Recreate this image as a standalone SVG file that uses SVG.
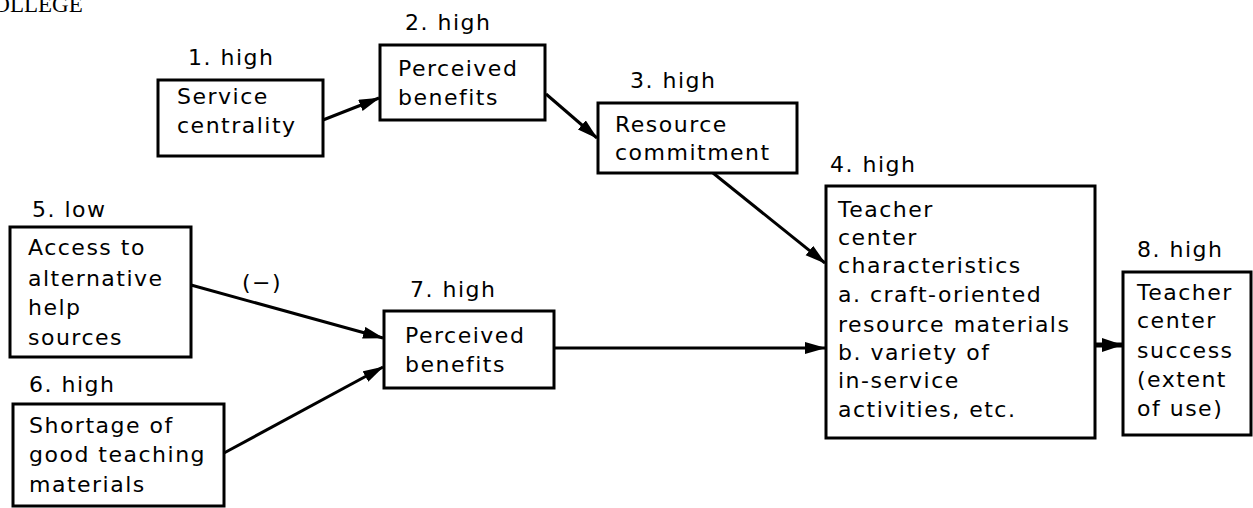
<svg xmlns="http://www.w3.org/2000/svg" width="1253" height="508" viewBox="0 0 1253 508">
<style>
.box{fill:#fff;stroke:#000;stroke-width:3}
.t{font-family:"DejaVu Sans",sans-serif;font-size:22px;letter-spacing:1.5px;fill:#000}
.lbl{font-family:"DejaVu Sans",sans-serif;font-size:22px;letter-spacing:1.5px;fill:#000}
.c{stroke:#000;stroke-width:3;fill:none;marker-end:url(#ah)}
</style>
<defs>
<marker id="ah" markerUnits="userSpaceOnUse" markerWidth="22" markerHeight="14" refX="20" refY="6" orient="auto">
<path d="M0,0 L21,6 L0,12 z" fill="#000"/>
</marker>
<marker id="ah2" markerUnits="userSpaceOnUse" markerWidth="22" markerHeight="16" refX="20" refY="7" orient="auto">
<path d="M0,0 L21,7 L0,14 z" fill="#000"/>
</marker>
</defs>
<rect width="1253" height="508" fill="#fff"/>
<text x="-22" y="12" font-family="Liberation Serif,serif" font-size="23" fill="#000">COLLEGE</text>

<g id="connectors">
<line class="c" x1="323" y1="120" x2="379" y2="98"/>
<line class="c" x1="546" y1="94" x2="597" y2="138"/>
<line class="c" x1="713" y1="173" x2="825" y2="263"/>
<line class="c" x1="191" y1="285" x2="383" y2="338"/>
<line class="c" x1="224" y1="453" x2="383" y2="367"/>
<line class="c" x1="554" y1="348" x2="825" y2="348"/>
<line x1="1095" y1="345" x2="1122" y2="345" stroke="#000" stroke-width="5" marker-end="url(#ah2)"/>
<text x="242" y="290" class="lbl">(−)</text>
</g>

<g id="n1">
<text x="188" y="65" class="lbl">1. high</text>
<rect class="box" x="158" y="80" width="165" height="76"/>
<text x="177" y="104" class="t">Service</text>
<text x="177" y="133" class="t">centrality</text>
</g>

<g id="n2">
<text x="405" y="30" class="lbl">2. high</text>
<rect class="box" x="380" y="45" width="165" height="75"/>
<text x="398" y="76" class="t">Perceived</text>
<text x="398" y="105" class="t">benefits</text>
</g>

<g id="n3">
<text x="630" y="88" class="lbl">3. high</text>
<rect class="box" x="598" y="103" width="199" height="70"/>
<text x="615" y="132" class="t">Resource</text>
<text x="615" y="160" class="t">commitment</text>
</g>

<g id="n4">
<text x="830" y="172" class="lbl">4. high</text>
<rect class="box" x="826" y="186" width="269" height="252"/>
<text x="838" y="217" class="t">Teacher</text>
<text x="838" y="245" class="t">center</text>
<text x="838" y="273" class="t">characteristics</text>
<text x="838" y="302" class="t">a. craft-oriented</text>
<text x="838" y="332" class="t">resource materials</text>
<text x="838" y="360" class="t">b. variety of</text>
<text x="838" y="388" class="t">in-service</text>
<text x="838" y="417" class="t">activities, etc.</text>
</g>

<g id="n5">
<text x="32" y="217" class="lbl">5. low</text>
<rect class="box" x="10" y="227" width="181" height="130"/>
<text x="28" y="255" class="t">Access to</text>
<text x="28" y="286" class="t">alternative</text>
<text x="28" y="315" class="t">help</text>
<text x="28" y="345" class="t">sources</text>
</g>

<g id="n6">
<text x="29" y="392" class="lbl">6. high</text>
<rect class="box" x="13" y="404" width="211" height="102"/>
<text x="29" y="433" class="t">Shortage of</text>
<text x="29" y="462" class="t">good teaching</text>
<text x="29" y="492" class="t">materials</text>
</g>

<g id="n7">
<text x="410" y="297" class="lbl">7. high</text>
<rect class="box" x="384" y="311" width="170" height="77"/>
<text x="405" y="343" class="t">Perceived</text>
<text x="405" y="372" class="t">benefits</text>
</g>

<g id="n8">
<text x="1137" y="257" class="lbl">8. high</text>
<rect class="box" x="1123" y="272" width="128" height="163"/>
<text x="1137" y="300" class="t">Teacher</text>
<text x="1137" y="328" class="t">center</text>
<text x="1137" y="358" class="t">success</text>
<text x="1137" y="387" class="t">(extent</text>
<text x="1137" y="416" class="t">of use)</text>
</g>
</svg>
